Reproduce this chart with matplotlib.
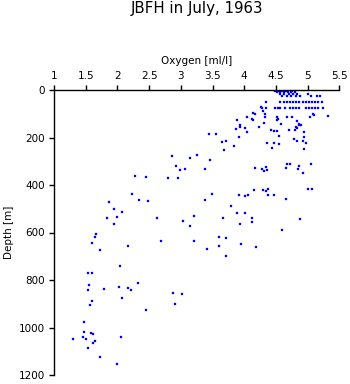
import matplotlib
matplotlib.use("Agg")
import matplotlib.pyplot as plt

plt.rcParams['font.family'] = ['DejaVu Sans']

# Surface layer (0-260 m)
surf_oxygen = [4.47, 4.51, 4.55, 4.59, 4.63, 4.67, 4.72, 4.95,
               4.49, 4.54, 4.60, 4.66, 4.76,
               4.52, 4.57, 4.62, 4.69, 4.74, 4.80,
               4.56, 4.63, 4.70, 4.77, 4.84, 5.00,
               4.60, 4.67, 4.74, 4.81, 4.88, 5.06, 5.15, 5.19,
               4.34, 4.57, 4.62, 4.67, 4.72, 4.77, 4.82, 4.87, 4.92, 4.97, 5.02, 5.07, 5.12, 5.17, 5.22,
               4.28, 4.34, 4.48, 4.53, 4.57, 4.64, 4.72, 4.77, 4.82, 4.87, 4.97, 5.02, 5.07, 5.12, 5.17, 5.25,
               4.27, 4.30, 4.17, 4.33, 5.09, 4.14, 5.32, 5.10,
               4.04, 4.33, 4.52, 4.67, 4.75, 5.03,
               4.13, 4.53, 3.88, 4.51, 4.14, 4.83, 4.32, 4.58, 4.86,
               3.93, 4.86, 4.90, 3.93, 4.82, 4.24, 4.01, 4.84, 3.87,
               4.43, 4.71, 4.80, 4.47, 4.52, 4.05, 4.95, 3.45, 3.55, 4.55,
               4.95, 3.92, 4.79, 3.71, 4.92, 4.83, 3.65, 4.97, 4.36, 4.47,
               4.55, 3.84, 4.44, 4.94, 3.68]
surf_depth = [0, 0, 0, 0, 0, 0, 0, 0,
              5, 5, 5, 5, 5,
              10, 10, 10, 10, 10, 10,
              17, 17, 17, 17, 17, 17,
              25, 25, 25, 25, 25, 25, 25, 25,
              50, 50, 50, 50, 50, 50, 50, 50, 50, 50, 50, 50, 50, 50, 50,
              77, 77, 77, 77, 77, 77, 77, 77, 77, 77, 77, 77, 77, 77, 77, 77,
              73, 90, 102, 102, 102, 98, 108, 107,
              112, 112, 112, 112, 112, 115,
              124, 122, 126, 126, 126, 130, 138, 143, 145,
              147, 147, 147, 154, 154, 157, 161, 161, 166,
              168, 168, 168, 171, 174, 175, 178, 185, 187, 192,
              198, 199, 208, 213, 213, 215, 220, 222, 223, 223,
              229, 237, 243, 250, 253]

# Intermediate layer (260-720 m)
mid_oxygen = [2.86, 3.26, 3.14, 3.46, 2.92, 2.99, 3.07, 3.38, 2.95, 2.80, 2.45, 2.28,
              4.17, 4.28, 4.34, 4.32, 4.36, 4.67, 4.73, 4.66, 4.86, 4.85, 4.92, 5.06,
              5.01, 5.07, 4.15, 4.30, 4.35, 4.37, 4.38, 4.47, 4.66, 4.06, 4.01, 3.92,
              3.49, 3.38, 2.23, 2.34, 2.48, 1.86, 1.94, 2.08, 1.99, 1.84, 1.95, 2.62,
              3.03, 3.21, 3.15, 3.79, 3.89, 4.01, 3.67, 3.94, 4.12, 4.13, 4.60, 4.88,
              1.66, 1.64, 1.60, 1.73, 2.16, 2.69, 3.21, 3.41, 3.60, 3.71, 3.61, 3.95,
              4.19, 3.71]
mid_depth = [277, 272, 288, 296, 321, 338, 333, 333, 372, 372, 368, 363,
             330, 333, 323, 342, 338, 313, 313, 330, 320, 333, 351, 313,
             418, 417, 422, 422, 427, 417, 444, 444, 459, 444, 448, 444,
             438, 465, 439, 465, 466, 473, 502, 515, 536, 540, 564, 540,
             553, 532, 573, 487, 519, 517, 540, 566, 539, 556, 588, 545,
             608, 618, 646, 675, 658, 634, 637, 669, 620, 623, 658, 647,
             662, 700]

# Deep layer (720-1200 m)
deep_oxygen = [2.04, 1.54, 1.60, 1.55, 1.54, 1.79, 2.03, 2.16, 2.22, 2.33,
               2.07, 1.60, 1.56, 2.45, 2.87, 3.02, 2.91, 1.47, 1.47, 1.58,
               1.61, 1.46, 1.51, 1.30, 1.65, 1.62, 1.54, 1.73, 2.00, 2.06]
deep_depth = [741, 771, 772, 820, 843, 839, 831, 835, 843, 814,
              877, 890, 907, 928, 855, 860, 902, 975, 1020, 1025,
              1026, 1041, 1050, 1050, 1057, 1067, 1088, 1126, 1155, 1039]

x_ticks = [1, 1.5, 2, 2.5, 3, 3.5, 4, 4.5, 5, 5.5]
x_tick_labels = ['1', '1.5', '2', '2.5', '3', '3.5', '4', '4.5', '5', '5.5']
y_ticks = [0, 200, 400, 600, 800, 1000, 1200]

fig = plt.figure(figsize=(3.5, 3.84), dpi=100)
ax = fig.add_axes([54 / 350, 1 - 375 / 384, (339.3 - 54) / 350, (375 - 90) / 384])

for ox, dp in [(surf_oxygen, surf_depth), (mid_oxygen, mid_depth), (deep_oxygen, deep_depth)]:
    ax.plot(ox, dp, linestyle='none', marker='s', markersize=1.8,
            markerfacecolor='#0000ff', markeredgecolor='#0000ff', markeredgewidth=0.2)

ax.set_xlim(1, 5.5)
ax.set_ylim(1200, 0)
ax.xaxis.set_ticks_position('top')
ax.xaxis.set_label_position('top')
ax.set_xticks(x_ticks)
ax.set_xticklabels(x_tick_labels)
ax.set_yticks(y_ticks)
ax.spines['right'].set_visible(False)
ax.spines['bottom'].set_visible(False)
for s in ['left', 'top']:
    ax.spines[s].set_linewidth(1.0)
ax.tick_params(axis='both', direction='out', length=3.6, width=1.0, labelsize=7.5, pad=3)
ax.set_xlabel('Oxygen [ml/l]', fontsize=7.5, labelpad=5)
ax.set_ylabel('Depth [m]', fontsize=7.5, labelpad=3)
fig.text((54 + 339.3) / 2 / 350, 1 - 8 / 384, 'JBFH in July, 1963', ha='center', va='center',
         fontsize=10.8)

fig.savefig('out.png', dpi=100)
